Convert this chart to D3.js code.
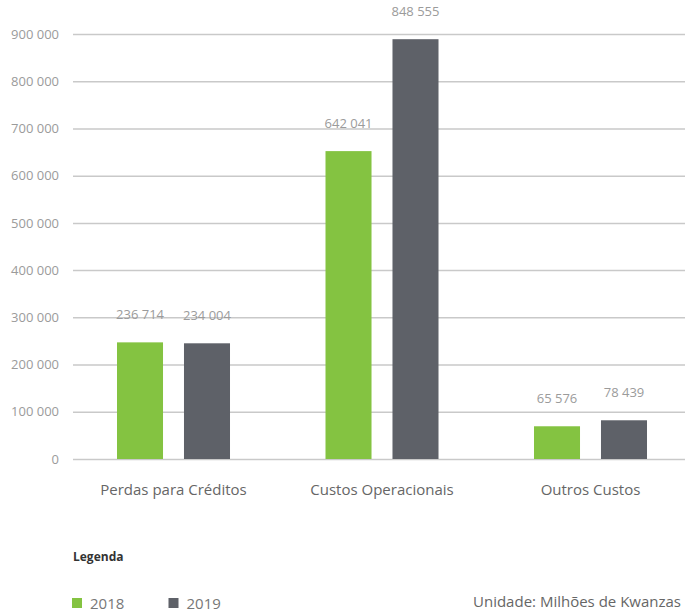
<!DOCTYPE html>
<html>
<head>
<meta charset="utf-8">
<script src="https://cdn.jsdelivr.net/npm/d3@7"></script>
<style>
  body { margin: 0; background: #fff; }
  svg { font-family: "Open Sans", sans-serif; }
</style>
</head>
<body>
<svg class="chart"></svg>
<script>
// dados (valores das barras, rótulos como impressos)
var categories = ["Perdas para Créditos", "Custos Operacionais", "Outros Custos"];
var years = ["2018", "2019"];
var values2018 = [247000, 652000, 69300];
var values2019 = [245000, 889000, 82000];
var labels2018 = ["236 714", "642 041", "65 576"];
var labels2019 = ["234 004", "848 555", "78 439"];
var yTicks = [0, 100000, 200000, 300000, 400000, 500000, 600000, 700000, 800000, 900000];

var width = 686;
var height = 611;
var colors = ["#84c341", "#5e6168"];

var svg = d3.select(".chart").attr("width", width).attr("height", height);

var locale = d3.formatLocale({ decimal: ",", thousands: " ", grouping: [3], currency: ["", ""] });
var fmt = locale.format(",");

var y = d3.scaleLinear().domain([0, 900000]).range([459, 34]);

// eixo / grelha
var gridLeft = 73, gridRight = 685;
var yAxis = svg.append("g")
  .attr("transform", "translate(" + gridLeft + ",0)")
  .call(d3.axisLeft(y).tickValues(yTicks).tickFormat(fmt)
    .tickSize(-(gridRight - gridLeft)).tickPadding(14));
yAxis.select(".domain").remove();
yAxis.selectAll(".tick line").attr("stroke", "#c9c9c9").attr("stroke-width", 1.5);
yAxis.selectAll(".tick text")
  .attr("fill", "#9b9b9b")
  .attr("font-size", "13px")
  .attr("font-family", "Open Sans, sans-serif");

var x0 = d3.scaleBand().domain(categories).range([69.25, 694.75])
  .paddingInner(0.458).paddingOuter(0.229);
var x1 = d3.scaleBand().domain(years).range([0, x0.bandwidth()]).paddingInner(0.313);

var rows = categories.map(function (c, i) {
  return {
    cat: c,
    bars: [
      { year: years[0], value: values2018[i], label: labels2018[i] },
      { year: years[1], value: values2019[i], label: labels2019[i] }
    ]
  };
});

var groups = svg.selectAll("g.grp").data(rows).enter().append("g")
  .attr("class", "grp")
  .attr("transform", function (d) { return "translate(" + x0(d.cat) + ",0)"; });

groups.selectAll("rect").data(function (d) { return d.bars; }).enter().append("rect")
  .attr("x", function (d) { return x1(d.year); })
  .attr("y", function (d) { return y(d.value); })
  .attr("width", x1.bandwidth())
  .attr("height", function (d) { return y(0) - y(d.value); })
  .attr("fill", function (d, i) { return colors[i]; });

groups.selectAll("text.val").data(function (d) { return d.bars; }).enter().append("text")
  .attr("class", "val")
  .attr("x", function (d) { return x1(d.year) + x1.bandwidth() / 2; })
  .attr("y", function (d) { return y(d.value) - 23; })
  .attr("text-anchor", "middle")
  .attr("font-size", "13px")
  .attr("fill", "#9b9b9b")
  .text(function (d) { return d.label; });

// rótulos das categorias
svg.selectAll("text.cat").data(categories).enter().append("text")
  .attr("class", "cat")
  .attr("x", function (d) { return x0(d) + x0.bandwidth() / 2; })
  .attr("y", 495)
  .attr("text-anchor", "middle")
  .attr("font-size", "15px")
  .attr("fill", "#666")
  .text(function (d) { return d; });

// legenda
svg.append("text")
  .attr("x", 73).attr("y", 561)
  .attr("font-size", "12px").attr("font-weight", "bold")
  .attr("fill", "#333")
  .text("Legenda");

var leg = svg.selectAll("g.leg").data(years).enter().append("g")
  .attr("class", "leg")
  .attr("transform", function (d, i) { return "translate(" + (72 + i * 96.5) + ",598)"; });
leg.append("rect").attr("width", 10).attr("height", 10)
  .attr("fill", function (d, i) { return colors[i]; });
leg.append("text").attr("x", 18).attr("y", 10.5)
  .attr("font-size", "15px").attr("fill", "#777")
  .text(function (d) { return d; });

svg.append("text")
  .attr("x", 681).attr("y", 607)
  .attr("text-anchor", "end")
  .attr("font-size", "15px").attr("fill", "#666")
  .text("Unidade: Milhões de Kwanzas");
</script>
</body>
</html>
